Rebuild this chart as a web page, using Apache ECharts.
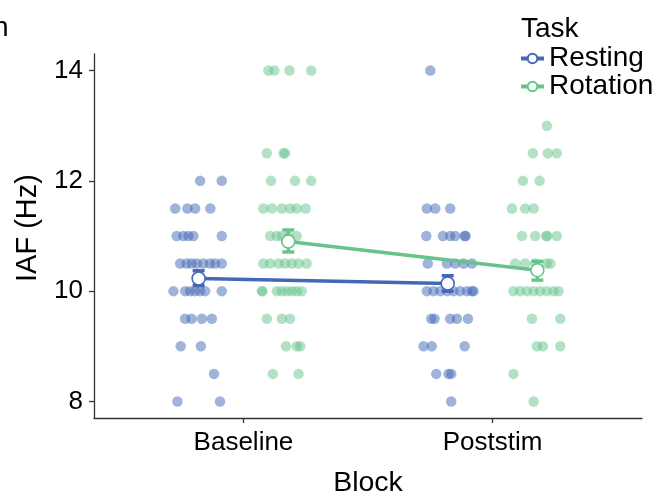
<!DOCTYPE html>
<html><head><meta charset="utf-8">
<script src="https://cdn.jsdelivr.net/npm/echarts@6/dist/echarts.min.js"></script>
<style>html,body{margin:0;padding:0;background:#fff;}#c{width:658px;height:494px;}</style>
</head><body><div id="c"></div>
<script>
const categories = ['Baseline', 'Poststim'];
const yTicks = [8, 10, 12, 14];
const FONT = 'Liberation Sans, Arial, sans-serif';

// individual observations: [jittered x position on the block axis, IAF]
const restingBaseline = [
  [0.826,12],[0.913,12],
  [0.726,11.5],[0.775,11.5],[0.806,11.5],[0.867,11.5],
  [0.732,11],[0.759,11],[0.779,11],[0.799,11],[0.913,11],
  [0.746,10.5],[0.772,10.5],[0.792,10.5],[0.813,10.5],[0.839,10.5],[0.866,10.5],[0.886,10.5],[0.913,10.5],
  [0.719,10],[0.766,10],[0.786,10],[0.806,10],[0.826,10],[0.846,10],[0.913,10],
  [0.766,9.5],[0.792,9.5],[0.833,9.5],[0.873,9.5],
  [0.748,9],[0.829,9],
  [0.882,8.5],
  [0.735,8],[0.906,8]
];
const rotationBaseline = [
  [1.100,14],[1.124,14],[1.185,14],[1.272,14],
  [1.094,12.5],[1.161,12.5],[1.167,12.5],
  [1.111,12],[1.207,12],[1.272,12],
  [1.080,11.5],[1.114,11.5],[1.154,11.5],[1.187,11.5],[1.214,11.5],[1.250,11.5],
  [1.107,11],[1.134,11],[1.154,11],[1.181,11],[1.214,11],
  [1.080,10.5],[1.107,10.5],[1.141,10.5],[1.167,10.5],[1.194,10.5],[1.221,10.5],[1.254,10.5],
  [1.074,10],[1.076,10],[1.134,10],[1.154,10],[1.174,10],[1.194,10],[1.214,10],[1.234,10],
  [1.094,9.5],[1.154,9.5],[1.187,9.5],
  [1.171,9],[1.214,9],[1.228,9],
  [1.118,8.5],[1.221,8.5]
];
const restingPoststim = [
  [1.750,14],
  [1.736,11.5],[1.770,11.5],[1.830,11.5],
  [1.734,11],[1.801,11],[1.830,11],[1.850,11],[1.888,11],[1.892,11],
  [1.740,10.5],[1.817,10.5],[1.850,10.5],[1.884,10.5],[1.917,10.5],
  [1.736,10],[1.763,10],[1.790,10],[1.817,10],[1.843,10],[1.870,10],[1.897,10],[1.917,10],[1.924,10],
  [1.754,9.5],[1.767,9.5],[1.830,9.5],[1.857,9.5],[1.901,9.5],
  [1.723,9],[1.756,9],[1.888,9],
  [1.774,8.5],[1.823,8.5],[1.834,8.5],
  [1.834,8]
];
const rotationPoststim = [
  [2.218,13],
  [2.162,12.5],[2.222,12.5],[2.258,12.5],
  [2.122,12],[2.189,12],
  [2.078,11.5],[2.131,11.5],[2.165,11.5],
  [2.118,11],[2.171,11],[2.215,11],[2.220,11],[2.258,11],
  [2.091,10.5],[2.131,10.5],[2.171,10.5],[2.218,10.5],[2.232,10.5],
  [2.084,10],[2.111,10],[2.138,10],[2.165,10],[2.191,10],[2.218,10],[2.245,10],[2.265,10],
  [2.158,9.5],[2.272,9.5],
  [2.178,9],[2.202,9],[2.272,9],
  [2.084,8.5],
  [2.165,8]
];

// group means and error bar limits (Baseline, Poststim)
const restingMean = [10.23, 10.14];
const restingLow  = [10.10, 10.00];
const restingHigh = [10.37, 10.28];
const rotationMean = [10.90, 10.38];
const rotationLow  = [10.71, 10.20];
const rotationHigh = [11.11, 10.54];
const dodge = 0.18;

const BLUE = '#4268B6';
const GREEN = '#66C48B';

function meanData(means, sign) {
  return means.map((m, i) => [i + 1 + sign * dodge, m]);
}
function errData(low, high, sign) {
  return low.map((l, i) => [i + 1 + sign * dodge, l, high[i]]);
}
function errSeries(name, data, color) {
  return {
    type: 'custom', name: name, z: 3, silent: true,
    data: data,
    encode: { x: 0, y: [1, 2] },
    renderItem: function (params, api) {
      const x = api.value(0);
      const lo = api.coord([x, api.value(1)]);
      const hi = api.coord([x, api.value(2)]);
      const w = 6;
      const st = { stroke: color, lineWidth: 3.4 };
      return {
        type: 'group',
        children: [
          { type: 'line', shape: { x1: lo[0], y1: lo[1], x2: hi[0], y2: hi[1] }, style: st },
          { type: 'line', shape: { x1: lo[0] - w, y1: lo[1], x2: lo[0] + w, y2: lo[1] }, style: st },
          { type: 'line', shape: { x1: hi[0] - w, y1: hi[1], x2: hi[0] + w, y2: hi[1] }, style: st }
        ]
      };
    }
  };
}
function pointSeries(name, data, color) {
  return {
    type: 'scatter', name: name, z: 2, silent: true,
    data: data, symbolSize: 10.5,
    itemStyle: { color: color, opacity: 0.5 }
  };
}
function lineSeries(name, data, color, z) {
  return {
    type: 'line', name: name, z: z,
    data: data, symbol: 'circle', symbolSize: 13,
    lineStyle: { color: color, width: 3.6 },
    itemStyle: { color: '#ffffff', borderColor: color, borderWidth: 1.6 }
  };
}

const chart = echarts.init(document.getElementById('c'), null, { renderer: 'canvas' });
chart.setOption({
  animation: false,
  backgroundColor: '#ffffff',
  textStyle: { fontFamily: FONT },
  grid: { left: 94, right: 16, top: 54, bottom: 76, containLabel: false, outerBoundsMode: 'none' },
  xAxis: {
    type: 'value', min: 0.4, max: 2.6,
    name: 'Block', nameLocation: 'middle', nameGap: 51,
    nameTextStyle: { fontSize: 28.5, color: '#000', fontFamily: FONT },
    axisLine: { show: true, onZero: false, lineStyle: { color: '#333', width: 1.3 } },
    axisTick: { show: true, length: 5, customValues: [1, 2], lineStyle: { color: '#333', width: 1.3 } },
    axisLabel: {
      customValues: [1, 2], margin: 12, fontSize: 26, color: '#000', fontFamily: FONT,
      formatter: function (v) { return categories[Math.round(v) - 1] || ''; }
    },
    splitLine: { show: false }
  },
  yAxis: {
    type: 'value', min: 7.7, max: 14.3,
    axisLine: { show: true, onZero: false, lineStyle: { color: '#333', width: 1.3 } },
    axisTick: { show: true, length: 5, customValues: yTicks, lineStyle: { color: '#333', width: 1.3 } },
    axisLabel: { customValues: yTicks, margin: 11, fontSize: 26, color: '#000', fontFamily: FONT },
    splitLine: { show: false }
  },
  legend: {
    data: ['Resting', 'Rotation'],
    orient: 'vertical', left: 519, top: 44.5, padding: 0,
    itemWidth: 23, itemHeight: 12, itemGap: 0,
    lineStyle: { width: 4 },
    textStyle: { fontSize: 28, lineHeight: 24, color: '#000', fontFamily: FONT },
    selectedMode: false
  },
  graphic: [
    { type: 'text', left: 521, top: 15, style: { text: 'Task', fontSize: 28, fill: '#000', fontFamily: FONT } },
    { type: 'text', x: 28, y: 228, rotation: Math.PI / 2,
      style: { text: 'IAF (Hz)', fontSize: 29, fill: '#000', fontFamily: FONT, align: 'center', verticalAlign: 'middle' } },
    { type: 'text', left: -7, top: 14, style: { text: 'n', fontSize: 28, fill: '#000', fontFamily: FONT } }
  ],
  series: [
    pointSeries('Resting points', restingBaseline.concat(restingPoststim), BLUE),
    pointSeries('Rotation points', rotationBaseline.concat(rotationPoststim), GREEN),
    errSeries('Resting error', errData(restingLow, restingHigh, -1), BLUE),
    errSeries('Rotation error', errData(rotationLow, rotationHigh, 1), GREEN),
    lineSeries('Resting', meanData(restingMean, -1), BLUE, 4),
    lineSeries('Rotation', meanData(rotationMean, 1), GREEN, 5)
  ]
});
</script></body></html>
